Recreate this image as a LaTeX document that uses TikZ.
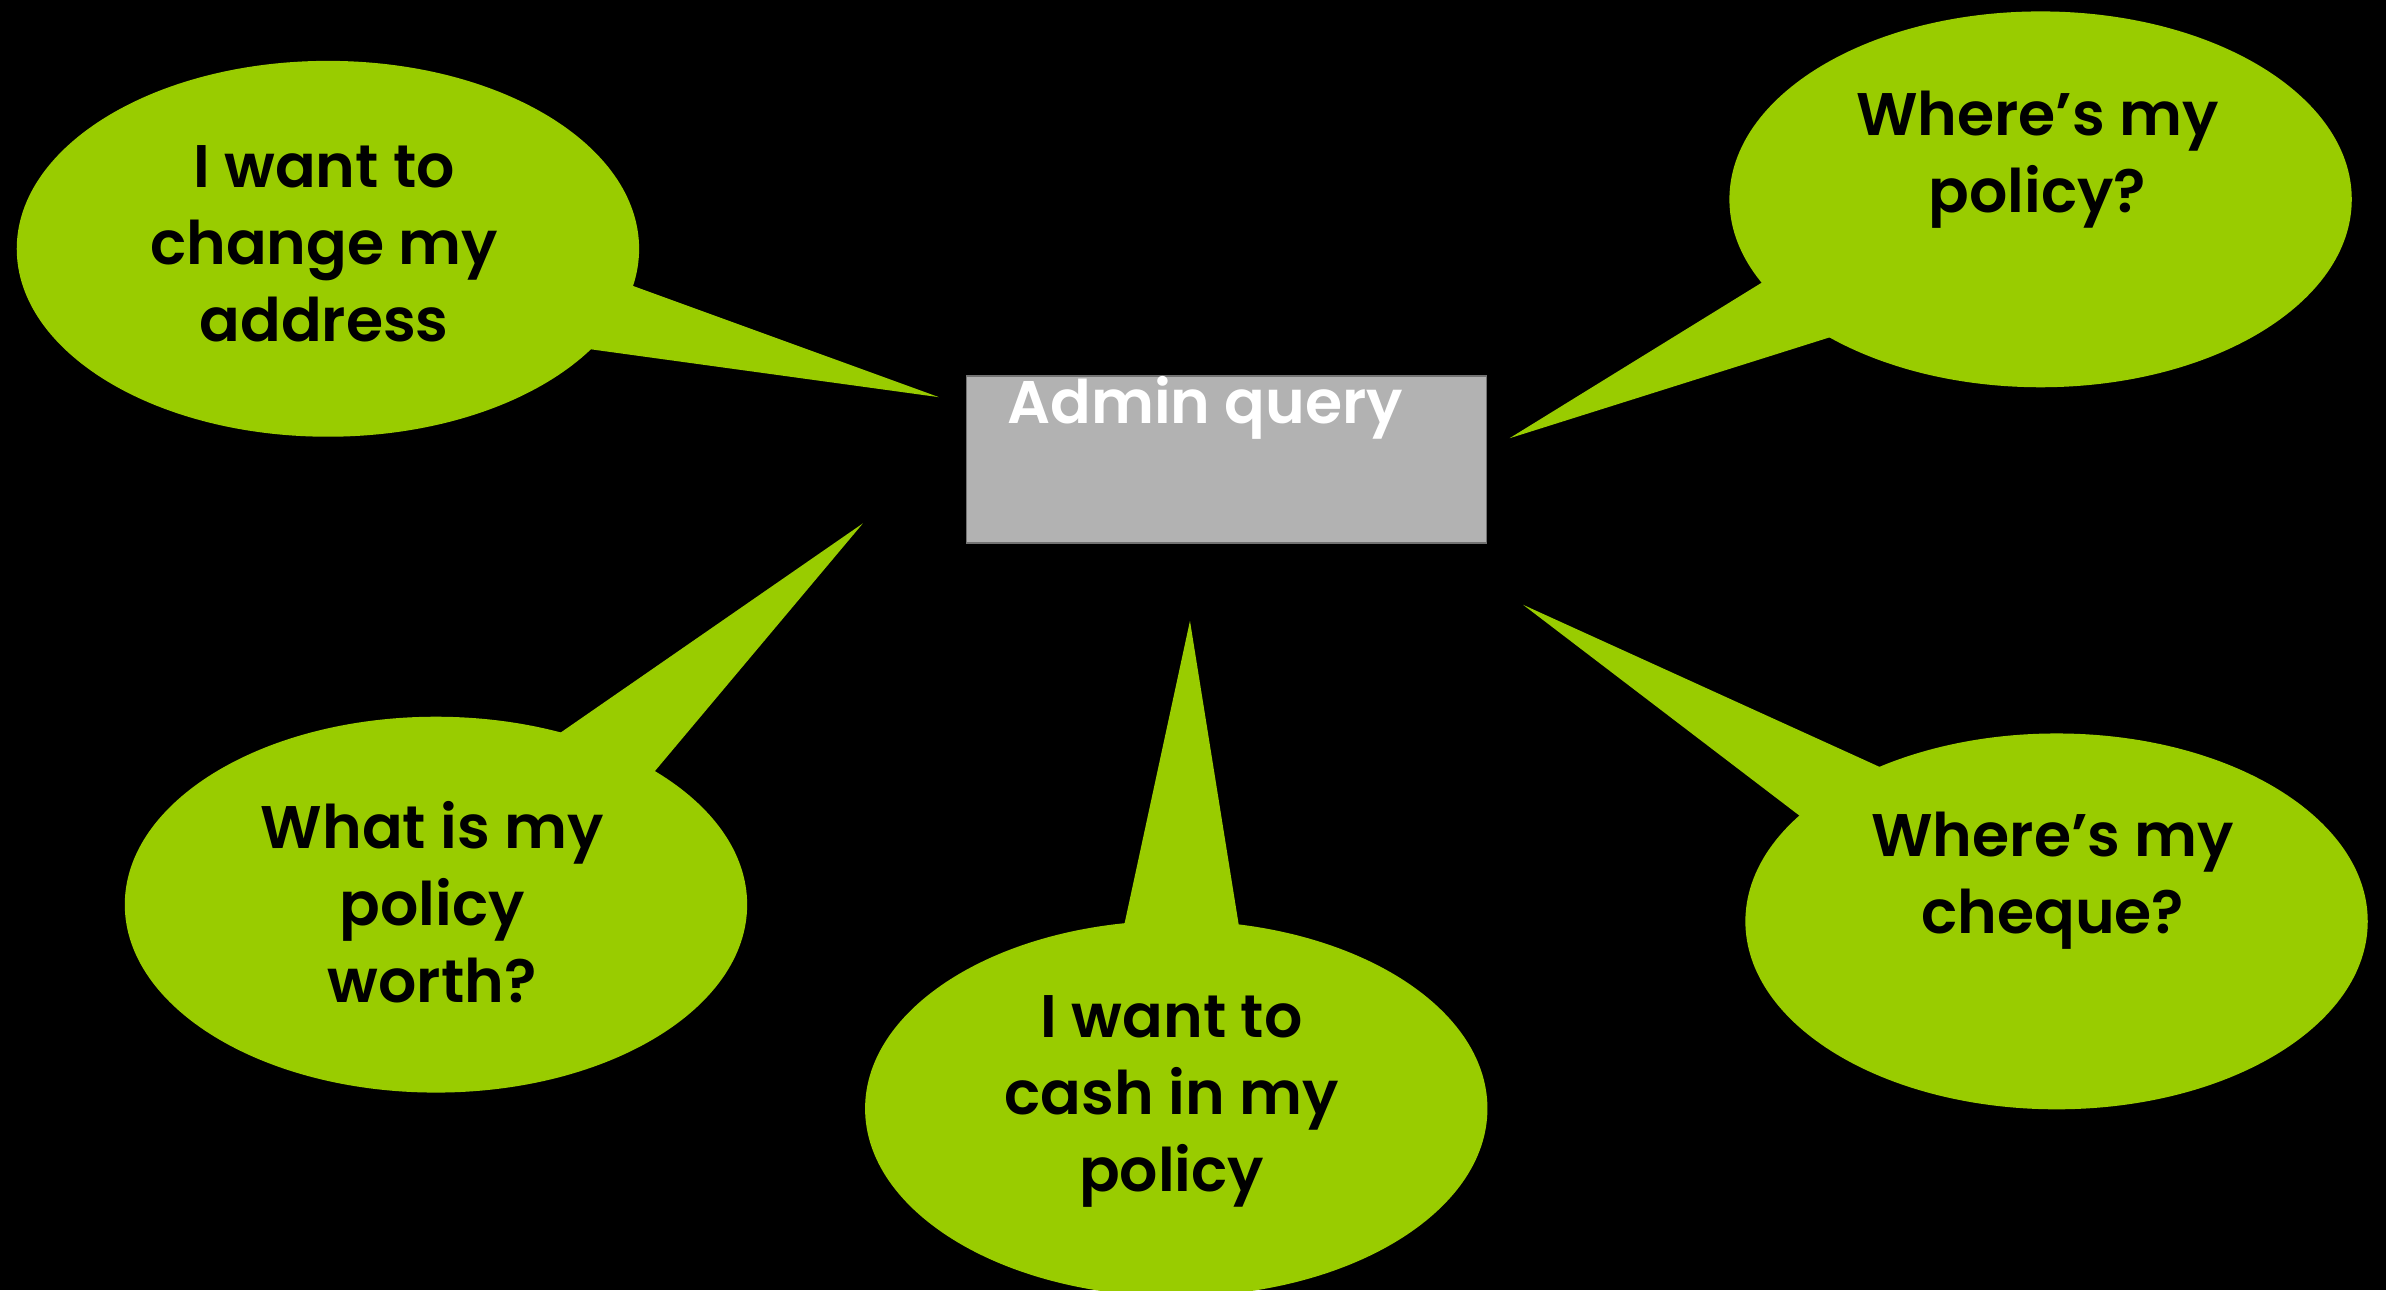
\documentclass[tikz,border=0pt]{standalone}
\usepackage{fontspec}
\setmainfont{Poppins}[BoldFont={* SemiBold}]
\usetikzlibrary{shapes.geometric,calc}
\definecolor{bubgreen}{HTML}{99CC00}
\definecolor{boxgray}{HTML}{B2B2B2}
\tikzset{
    bubble/.style={ellipse,fill=bubgreen,inner sep=0pt,minimum width=409pt,minimum height=247pt},
    say/.style={align=center,text=black,font=\fontsize{39.5}{50.5}\selectfont\bfseries},
    query/.style={fill=boxgray,draw=black!55,line width=1pt,inner sep=0pt,minimum width=342pt,minimum height=110pt}
}

\begin{document}
\begin{tikzpicture}[x=1pt,y=-1pt]
    \fill [black] (0,0) rectangle (1568,848);
    \useasboundingbox (0,0) rectangle (1568,848);
    % the query box
    \node [query] (admin) at (806,302) {};
    \node [text=white,font=\fontsize{39.5}{50.5}\selectfont\bfseries] (admintxt) at (792,268) {Admin query};
    % speech bubbles
    \node [bubble] (addr) at (215.5,163.5) {};
    \node [bubble] (pol) at (1341,131) {};
    \node [bubble] (worth) at (286.5,594.5) {};
    \node [bubble] (cash) at (773,728.5) {};
    \node [bubble] (cheq) at (1351.5,605.5) {};
    \coordinate (addrtip) at (617,261);
    \coordinate (poltip) at (992,288);
    \coordinate (worthtip) at (567,344);
    \coordinate (cashtip) at (782,408);
    \coordinate (cheqtip) at (1001,397.5);
    \foreach \b/\ta/\tb in {addr/11/33,pol/132/154,worth/-67/-45,cash/-100/-78,cheq/-146/-124} {
        \fill [bubgreen] (\b tip)
            -- ($(\b.center)+(\ta:200 and 120)$)
            -- ($(\b.center)+(\tb:200 and 120)$) -- cycle;
    }
    \node [say] (addrtxt) at (213,160) {I want to\\change my\\address};
    \node [say] (poltxt) at (1339,105) {Where’s my\\policy?};
    \node [say] (worthtxt) at (284,593) {What is my\\policy\\worth?};
    \node [say] (cashtxt) at (770,724) {I want to\\cash in my\\policy};
    \node [say] (cheqtxt) at (1349,579) {Where’s my\\cheque?};
\end{tikzpicture}
\end{document}
